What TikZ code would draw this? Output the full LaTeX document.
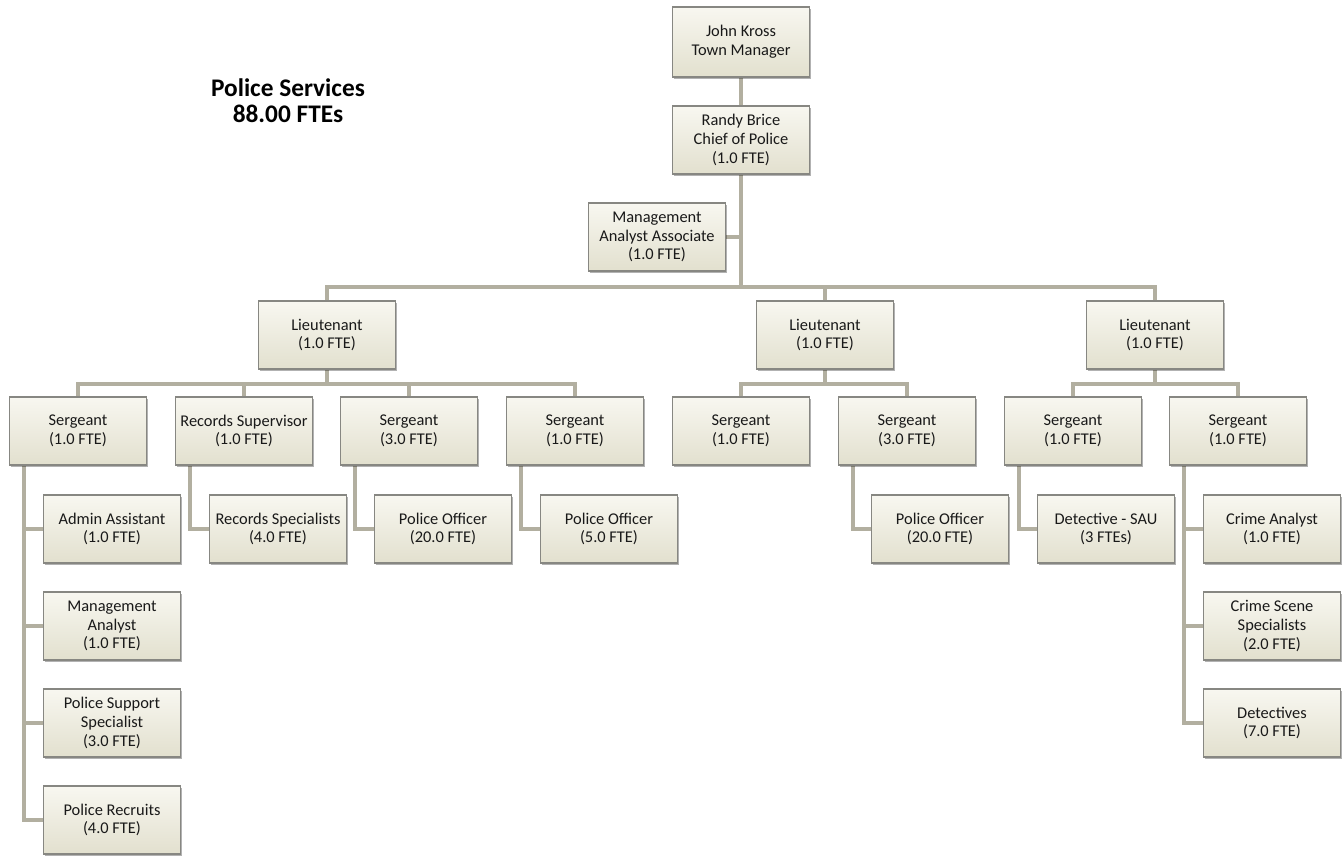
\documentclass[tikz,border=0pt]{standalone}
\usepackage{fontspec}
\setmainfont{Carlito}
\usetikzlibrary{shadows,backgrounds}
\definecolor{boxtop}{RGB}{248,247,240}
\definecolor{boxbot}{RGB}{226,224,206}
\definecolor{boxline}{RGB}{135,135,130}
\definecolor{conn}{RGB}{178,175,160}
\tikzset{
  orgbox/.style={rectangle, draw=boxline, line width=0.9pt, top color=boxtop, bottom color=boxbot,
    minimum width=102.75pt, minimum height=51pt, inner sep=1pt, align=center,
    font=\fontsize{12.3}{14}\selectfont, text=black!90,
    drop shadow={shadow xshift=1.3pt, shadow yshift=-1.3pt, opacity=0.3, fill=black}},
  link/.style={draw=conn, line width=3pt},
}
\begin{document}
\begin{tikzpicture}[x=0.75pt,y=-0.75pt]
\useasboundingbox (0,0) rectangle (1343,856);
\node[font=\fontsize{19}{19.5}\selectfont\bfseries, align=center] (title) at (288,101) {Police Services\\88.00 FTEs};
% top
\node[orgbox, minimum height=52.5pt] (jk) at (741,42) {John Kross\\Town Manager};
\node[orgbox] (rb) at (741,140) {Randy Brice\\Chief of Police\\(1.0 FTE)};
\node[orgbox] (maa) at (657,237) {Management\\Analyst Associate\\(1.0 FTE)};
% lieutenants
\node[orgbox] (lt1) at (327,335) {Lieutenant\\(1.0 FTE)};
\node[orgbox] (lt2) at (825,335) {Lieutenant\\(1.0 FTE)};
\node[orgbox] (lt3) at (1155,335) {Lieutenant\\(1.0 FTE)};
% sergeants
\node[orgbox] (s1) at (78,431) {Sergeant\\(1.0 FTE)};
\node[orgbox] (s2) at (244,431) {Records Supervisor\\(1.0 FTE)};
\node[orgbox] (s3) at (409,431) {Sergeant\\(3.0 FTE)};
\node[orgbox] (s4) at (575,431) {Sergeant\\(1.0 FTE)};
\node[orgbox] (s5) at (741,431) {Sergeant\\(1.0 FTE)};
\node[orgbox] (s6) at (907,431) {Sergeant\\(3.0 FTE)};
\node[orgbox] (s7) at (1073,431) {Sergeant\\(1.0 FTE)};
\node[orgbox] (s8) at (1238,431) {Sergeant\\(1.0 FTE)};
% sub units
\node[orgbox] (aa) at (112,529) {Admin Assistant\\(1.0 FTE)};
\node[orgbox] (ma) at (112,626) {Management\\Analyst\\(1.0 FTE)};
\node[orgbox] (pss) at (112,723) {Police Support\\Specialist\\(3.0 FTE)};
\node[orgbox] (pr) at (112,820) {Police Recruits\\(4.0 FTE)};
\node[orgbox] (rs) at (278,529) {Records Specialists\\(4.0 FTE)};
\node[orgbox] (po1) at (443,529) {Police Officer\\(20.0 FTE)};
\node[orgbox] (po2) at (609,529) {Police Officer\\(5.0 FTE)};
\node[orgbox] (po3) at (940,529) {Police Officer\\(20.0 FTE)};
\node[orgbox] (ds) at (1106,529) {Detective - SAU\\(3 FTEs)};
\node[orgbox] (ca) at (1272,529) {Crime Analyst\\(1.0 FTE)};
\node[orgbox] (css) at (1272,626) {Crime Scene\\Specialists\\(2.0 FTE)};
\node[orgbox] (det) at (1272,723) {Detectives\\(7.0 FTE)};
% bars
\coordinate (bt) at (741,287);
\coordinate (b1) at (327,384);
\coordinate (b2) at (825,384);
\coordinate (b3) at (1155,384);
\begin{scope}[on background layer]
\draw[link] (jk) -- (rb);
\draw[link] (rb) -- (bt);
\draw[link] (maa.east) -- (maa.east -| rb);
\draw[link] (bt) -| (lt1);
\draw[link] (bt) -| (lt2);
\draw[link] (bt) -| (lt3);
\draw[link] (lt1) -- (b1);
\draw[link] (b1) -| (s1);
\draw[link] (b1) -| (s2);
\draw[link] (b1) -| (s3);
\draw[link] (b1) -| (s4);
\draw[link] (lt2) -- (b2);
\draw[link] (b2) -| (s5);
\draw[link] (b2) -| (s6);
\draw[link] (lt3) -- (b3);
\draw[link] (b3) -| (s7);
\draw[link] (b3) -| (s8);
\draw[link] ([xshift=11.25pt]s1.south west) |- (aa.west);
\draw[link] ([xshift=11.25pt]s1.south west) |- (ma.west);
\draw[link] ([xshift=11.25pt]s1.south west) |- (pss.west);
\draw[link] ([xshift=11.25pt]s1.south west) |- (pr.west);
\draw[link] ([xshift=11.25pt]s2.south west) |- (rs.west);
\draw[link] ([xshift=11.25pt]s3.south west) |- (po1.west);
\draw[link] ([xshift=11.25pt]s4.south west) |- (po2.west);
\draw[link] ([xshift=11.25pt]s6.south west) |- (po3.west);
\draw[link] ([xshift=11.25pt]s7.south west) |- (ds.west);
\draw[link] ([xshift=11.25pt]s8.south west) |- (ca.west);
\draw[link] ([xshift=11.25pt]s8.south west) |- (css.west);
\draw[link] ([xshift=11.25pt]s8.south west) |- (det.west);
\end{scope}
\end{tikzpicture}
\end{document}
